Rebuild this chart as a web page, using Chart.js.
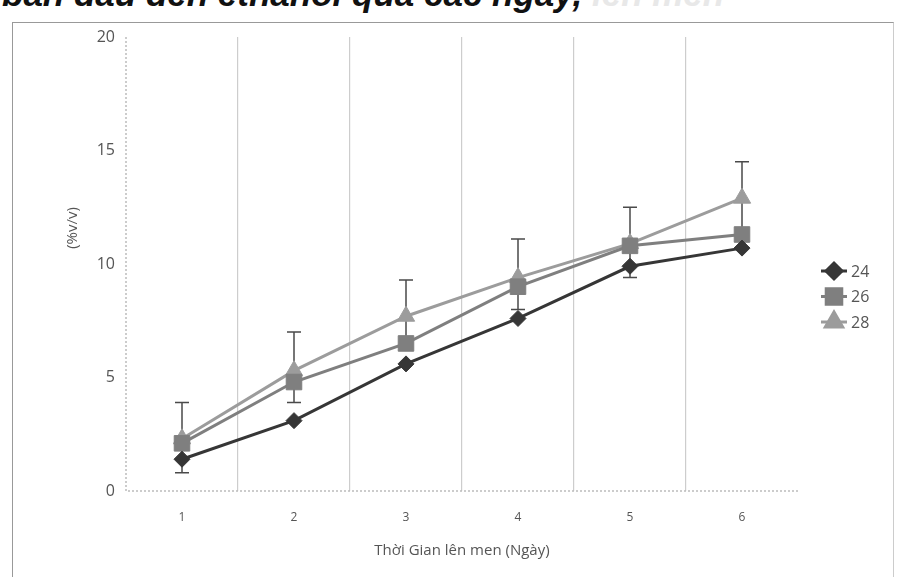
<!DOCTYPE html>
<html>
<head>
<meta charset="utf-8">
<script src="https://cdn.jsdelivr.net/npm/chart.js@4/dist/chart.umd.min.js"></script>
<style>
  body { margin: 0; background: #fff; width: 899px; height: 577px; overflow: hidden; position: relative; }
  #head { position: absolute; left: 2px; top: -26px; font: italic bold 35px "Liberation Sans", sans-serif; color: #111; white-space: nowrap; }
  #frame { position: absolute; left: 12px; top: 22px; width: 880px; height: 570px; border: 1px solid #999; border-right-color: #ccc; background: #fff; }
  #wrap { position: absolute; left: 0; top: 0; width: 899px; height: 577px; }
</style>
</head>
<body>
<div id="head">ban đầu đến ethanol qua các ngày, <span style="color:#e8e8e8">lên men</span></div>
<div id="frame"></div>
<div id="wrap"><canvas id="chart" width="899" height="577"></canvas></div>
<script>
const days = ["1", "2", "3", "4", "5", "6"];
const temps = ["24", "26", "28"];
const s24 = [1.4, 3.1, 5.6, 7.6, 9.9, 10.7];
const s26 = [2.1, 4.8, 6.5, 9.0, 10.8, 11.3];
const s28 = [2.3, 5.3, 7.7, 9.4, 10.9, 12.9];
// error bar range per day (one bar per day)
const errLow = [0.8, 3.9, 6.5, 8.0, 9.4, 11.3];
const errHigh = [3.9, 7.0, 9.3, 11.1, 12.5, 14.5];
const yTicks = [0, 5, 10, 15, 20];

const colors = ["#363636", "#7f7f7f", "#9c9c9c"];
const shapes = ["rectRot", "rect", "triangle"];
const radii = [8, 11, 10];

const errorBars = {
  id: "errorBars",
  beforeDatasetsDraw(chart) {
    const ctx = chart.ctx;
    const x = chart.scales.x;
    const y = chart.scales.y;
    const area = chart.chartArea;
    ctx.save();
    // dotted axis lines
    ctx.strokeStyle = "#bcbcbc";
    ctx.lineWidth = 1.5;
    ctx.setLineDash([2, 2]);
    ctx.beginPath();
    ctx.moveTo(area.left, area.top);
    ctx.lineTo(area.left, area.bottom);
    ctx.lineTo(area.right, area.bottom);
    ctx.stroke();
    ctx.setLineDash([]);

    ctx.strokeStyle = "#4a4a4a";
    ctx.lineWidth = 1.5;
    for (let i = 0; i < days.length; i++) {
      const px = x.getPixelForValue(i);
      const top = y.getPixelForValue(errHigh[i]);
      const bot = y.getPixelForValue(errLow[i]);
      ctx.beginPath();
      ctx.moveTo(px, top);
      ctx.lineTo(px, bot);
      ctx.moveTo(px - 7, top);
      ctx.lineTo(px + 7, top);
      ctx.moveTo(px - 7, bot);
      ctx.lineTo(px + 7, bot);
      ctx.stroke();
    }
    ctx.restore();
  },
};

const sideLegend = {
  id: "sideLegend",
  afterDraw(chart) {
    const ctx = chart.ctx;
    ctx.save();
    // y axis title
    ctx.translate(73, 228);
    ctx.rotate(-Math.PI / 2);
    ctx.fillStyle = "#555";
    ctx.font = "15px 'Open Sans', sans-serif";
    ctx.textAlign = "center";
    ctx.textBaseline = "middle";
    ctx.fillText("(%v/v)", 0, 0);
    ctx.restore();

    ctx.save();
    chart.data.datasets.forEach(function (ds, i) {
      const cy = 271 + i * 25.5;
      ctx.strokeStyle = ds.borderColor;
      ctx.lineWidth = 3;
      ctx.beginPath();
      ctx.moveTo(821, cy);
      ctx.lineTo(847, cy);
      ctx.stroke();
      ctx.fillStyle = ds.borderColor;
      Chart.helpers.drawPoint(ctx, { pointStyle: ds.pointStyle, radius: ds.pointRadius, borderWidth: 1 }, 834, cy);
      ctx.fill();
      ctx.fillStyle = "#555";
      ctx.font = "16px 'Open Sans', sans-serif";
      ctx.textBaseline = "middle";
      ctx.fillText(ds.label, 851, cy + 1);
    });
    ctx.restore();
  },
};

const ctx = document.getElementById("chart").getContext("2d");
const series = [s24, s26, s28];
const myChart = new Chart(ctx, {
  type: "line",
  data: {
    labels: days,
    datasets: temps.map(function (t, i) {
      return {
        label: t,
        data: series[i],
        borderColor: colors[i],
        backgroundColor: colors[i],
        borderWidth: 3,
        pointStyle: shapes[i],
        pointRadius: radii[i],
        pointBorderWidth: 1,
        tension: 0,
      };
    }),
  },
  options: {
    responsive: false,
    animation: false,
    layout: { padding: { left: 0, top: 37, right: 101, bottom: 0 } },
    plugins: { legend: { display: false }, tooltip: { enabled: false } },
    scales: {
      x: {
        offset: true,
        afterFit(scale) { scale.height = 86; },
        grid: {
          offset: true,
          drawTicks: false,
          color(c) { return c.type !== "tick" || c.index === 0 ? "rgba(0,0,0,0)" : "#cdcdcd"; },
          lineWidth: 1.2,
        },
        border: { display: false },
        ticks: { color: "#555", padding: 19, font: { family: "'Open Sans', sans-serif", size: 12 } },
        title: {
          display: true,
          text: "Thời Gian lên men (Ngày)",
          color: "#555",
          padding: { top: 0, bottom: 17 },
          font: { family: "'Open Sans', sans-serif", size: 15 },
        },
      },
      y: {
        min: 0,
        max: 20,
        afterFit(scale) { scale.width = 126; },
        afterBuildTicks(scale) { scale.ticks = yTicks.map(function (v) { return { value: v }; }); },
        grid: { display: false },
        border: { display: false },
        ticks: { color: "#555", padding: 3, font: { family: "'Open Sans', sans-serif", size: 16 } },
        title: { display: false },
      },
    },
  },
  plugins: [errorBars, sideLegend],
});
</script>
</body>
</html>
